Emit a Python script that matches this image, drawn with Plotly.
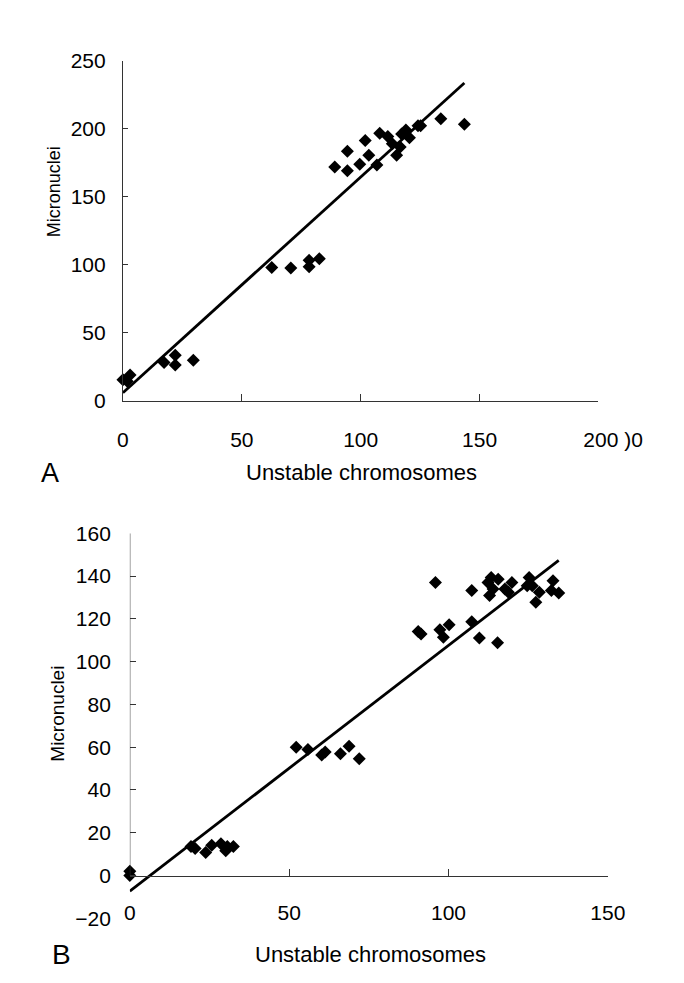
import plotly.graph_objects as go

# ---------------- Panel A data ----------------
a_x = [0, 1.8, 3.0, 17.3, 22.0, 22.0, 29.6, 62.6, 70.6, 78.3, 78.3, 82.6,
       89.1, 94.4, 94.4, 99.6, 101.9, 103.4, 106.8, 108.0, 111.4, 113.3,
       115.1, 116.6, 117.2, 119.0, 120.5, 124.1, 125.2, 133.7, 143.6]
a_y = [15.5, 14.4, 19.1, 28.2, 33.5, 26.3, 29.9, 98.1, 97.6, 103.3, 98.6, 104.5,
       171.8, 183.5, 169.1, 173.9, 191.4, 180.6, 173.4, 196.7, 194.3, 189.0,
       180.6, 186.6, 196.2, 199.0, 193.3, 202.2, 202.2, 207.4, 203.3]
a_fit_slope = 1.585
a_fit_intercept = 6.0
a_xticks = [0, 50, 100, 150, 200]
a_xticktext = ["0", "50", "100", "150",
               "&nbsp;&nbsp;&nbsp;&nbsp;&nbsp;200 )0"]
a_yticks = [0, 50, 100, 150, 200, 250]

# ---------------- Panel B data ----------------
b_x = [0, 0, 19.2, 20.5, 23.8, 25.7, 28.6, 30.1, 30.6, 32.5,
       52.2, 55.9, 60.2, 61.3, 66.1, 68.8, 72.0,
       90.5, 91.4, 95.9, 97.3, 98.4, 100.2, 107.3, 107.3, 109.7,
       112.4, 113.4, 112.9, 114.0, 115.6, 115.4, 117.7, 119.9, 118.8,
       124.7, 125.3, 126.3, 127.4, 128.5, 132.3, 132.8, 134.6]
b_y = [0, 2, 13.6, 12.6, 10.8, 14.2, 14.9, 11.6, 13.6, 13.6,
       60.0, 58.9, 56.4, 57.7, 56.9, 60.4, 54.6,
       114.1, 112.9, 137.0, 114.9, 111.4, 117.2, 118.7, 133.2, 111.0,
       137.0, 139.3, 130.9, 134.0, 138.5, 108.8, 134.0, 137.0, 132.4,
       135.5, 139.3, 135.5, 127.8, 132.4, 133.2, 137.8, 132.1]
b_fit_slope = 1.149
b_fit_intercept = -7.3
b_xticks = [0, 50, 100, 150]
b_yticks = [-20, 0, 20, 40, 60, 80, 100, 120, 140, 160]

x_title = "Unstable chromosomes"
y_title = "Micronuclei"

FONT = "Liberation Sans, Arial, sans-serif"
AX = "#333333"

fig = go.Figure()

marker = dict(symbol="diamond", size=10, color="black", line=dict(width=0))

fig.add_trace(go.Scatter(x=a_x, y=a_y, mode="markers", marker=marker,
                         xaxis="x", yaxis="y", cliponaxis=False, showlegend=False))
a_lx = [0, max(a_x)]
a_ly = [a_fit_intercept + a_fit_slope * v for v in a_lx]
fig.add_trace(go.Scatter(x=a_lx, y=a_ly, mode="lines", line=dict(color="black", width=2.8),
                         xaxis="x", yaxis="y", cliponaxis=False, showlegend=False))

fig.add_trace(go.Scatter(x=b_x, y=b_y, mode="markers", marker=marker,
                         xaxis="x2", yaxis="y2", cliponaxis=False, showlegend=False))
b_lx = [0, max(b_x)]
b_ly = [b_fit_intercept + b_fit_slope * v for v in b_lx]
fig.add_trace(go.Scatter(x=b_lx, y=b_ly, mode="lines", line=dict(color="black", width=2.8),
                         xaxis="x2", yaxis="y2", cliponaxis=False, showlegend=False))

tickfont = dict(family=FONT, size=21, color="black")
common = dict(showgrid=False, zeroline=False, ticks="inside", tickcolor=AX,
              tickfont=tickfont, linecolor=AX, linewidth=1, fixedrange=True)


def label(text, x_px, y_px, size, angle=0):
    return dict(text=text, x=x_px / 684, y=1 - y_px / 983, xref="paper", yref="paper",
                xanchor="center", yanchor="middle", textangle=angle,
                showarrow=False, font=dict(family=FONT, size=size, color="black"))


fig.update_layout(
    width=684, height=983,
    margin=dict(l=0, r=0, t=0, b=0),
    paper_bgcolor="white", plot_bgcolor="white",
    font=dict(family=FONT, color="black"),
    xaxis=dict(domain=[0.1718, 0.9219], range=[0, 200], anchor="y",
               tickvals=a_xticks, ticktext=a_xticktext, ticklen=7, showline=True,
               ticklabelstandoff=20, **common),
    yaxis=dict(domain=[0.60326, 0.95758], range=[0, 250], anchor="x",
               tickvals=a_yticks, ticklen=5, showline=True,
               ticklabelstandoff=12, **common),
    xaxis2=dict(domain=[0.1827, 0.9366], range=[0, 150], anchor="free",
                position=0.10885, tickvals=b_xticks, ticklen=7, showline=True,
                ticklabelstandoff=18, **common),
    yaxis2=dict(domain=[0.06429, 0.46531], range=[-20, 160], anchor="x2",
                tickvals=b_yticks, ticklen=6, showline=False,
                ticklabelstandoff=18, **common),
    shapes=[dict(type="line", xref="x2", yref="y2", x0=0, x1=0,
                 y0=0, y1=max(b_yticks), line=dict(color=AX, width=1))],
    annotations=[
        label(x_title, 375, 463, 22),
        label(x_title, 385, 957, 22),
        label(y_title, 43.5, 176, 18, -90),
        label(y_title, 46.7, 710, 19, -90),
        label("A", 39, 464, 27),
        label("B", 51, 957, 28),
    ],
)

fig.write_html("out.html")
